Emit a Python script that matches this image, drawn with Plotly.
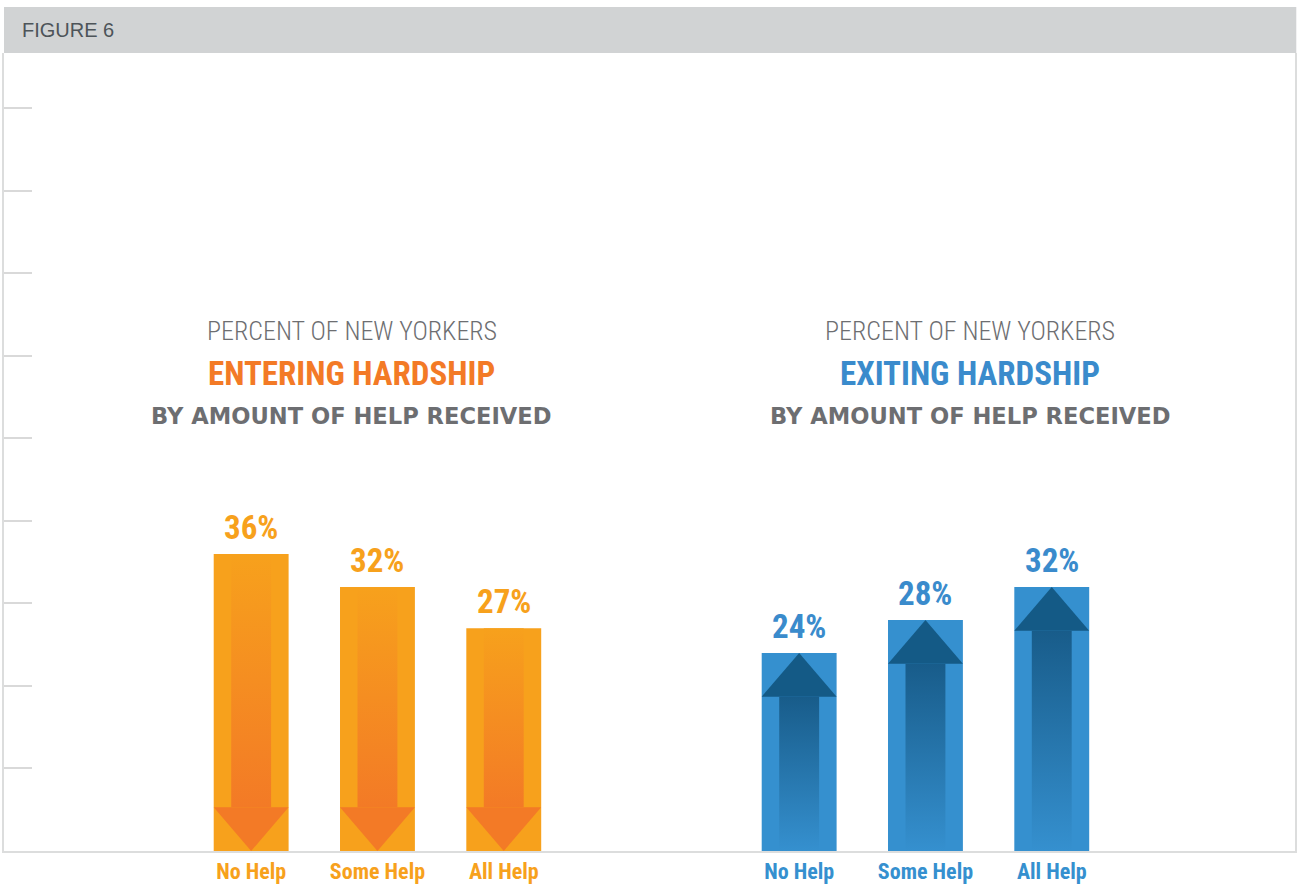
import plotly.graph_objects as go

categories = ["No Help", "Some Help", "All Help"]
entering_pct = [36, 32, 27]
exiting_pct = [24, 28, 32]

ORANGE = "#f7a11c"
ORANGE_DARK = "#f37a26"
BLUE = "#3590cf"
BLUE_DARK = "#145a86"
GRAY_TEXT = "#6d6e71"
LINE_GRAY = "#dcdddd"
NARROW = "Roboto Condensed, DejaVu Sans Condensed, Liberation Sans Narrow, Arial Narrow, Roboto, sans-serif"

BAR_W = 0.593     # bar width in category units
SHAFT_W = 0.316   # arrow shaft width
HEAD_H = 5.3      # arrow head height in percentage points

xs = list(range(len(categories)))

fig = go.Figure()

fig.add_bar(x=xs, y=entering_pct, width=BAR_W, marker_color=ORANGE,
            marker_line_width=0, xaxis="x", yaxis="y", hoverinfo="skip")
fig.add_bar(x=xs, y=exiting_pct, width=BAR_W, marker_color=BLUE,
            marker_line_width=0, xaxis="x2", yaxis="y", hoverinfo="skip")

s, w = SHAFT_W / 2, BAR_W / 2

# down arrows for people entering hardship
for c, v in zip(xs, entering_pct):
    fig.add_scatter(x=[c - s, c + s, c + s, c - s, c - s], y=[v, v, HEAD_H, HEAD_H, v],
                    fill="toself", mode="lines", line_width=0,
                    fillgradient=dict(type="vertical", colorscale=[[0, ORANGE_DARK], [1, ORANGE]]),
                    xaxis="x", yaxis="y", hoverinfo="skip")
    fig.add_scatter(x=[c - w, c + w, c, c - w], y=[HEAD_H, HEAD_H, 0, HEAD_H],
                    fill="toself", mode="lines", line_width=0, fillcolor=ORANGE_DARK,
                    xaxis="x", yaxis="y", hoverinfo="skip")

# up arrows for people exiting hardship
for c, v in zip(xs, exiting_pct):
    fig.add_scatter(x=[c - s, c + s, c + s, c - s, c - s], y=[0, 0, v - HEAD_H, v - HEAD_H, 0],
                    fill="toself", mode="lines", line_width=0,
                    fillgradient=dict(type="vertical", colorscale=[[0, BLUE], [1, "#185c8a"]]),
                    xaxis="x2", yaxis="y", hoverinfo="skip")
    fig.add_scatter(x=[c - w, c + w, c, c - w], y=[v - HEAD_H, v - HEAD_H, v, v - HEAD_H],
                    fill="toself", mode="lines", line_width=0, fillcolor=BLUE_DARK,
                    xaxis="x2", yaxis="y", hoverinfo="skip")

annotations = []
for c, v in zip(xs, entering_pct):
    annotations.append(dict(x=c, y=v, xref="x", yref="y", text=f"{v}%", showarrow=False,
                            yanchor="bottom", yshift=5,
                            font=dict(family=NARROW, size=33, color=ORANGE, weight=700)))
for c, v in zip(xs, exiting_pct):
    annotations.append(dict(x=c, y=v, xref="x2", yref="y", text=f"{v}%", showarrow=False,
                            yanchor="bottom", yshift=5,
                            font=dict(family=NARROW, size=33, color="#3a8bcc", weight=700)))

titles = [
    (0.2695, "ENTERING HARDSHIP", ORANGE_DARK),
    (0.7483, "EXITING HARDSHIP", "#3a8bcc"),
]
for xp, label, col in titles:
    annotations += [
        dict(x=xp, y=0.652, xref="paper", yref="paper", text="PERCENT OF NEW YORKERS",
             xanchor="center", showarrow=False,
             font=dict(family=NARROW, size=26, color=GRAY_TEXT, weight=300)),
        dict(x=xp, y=0.598, xref="paper", yref="paper", text=label,
             xanchor="center", showarrow=False,
             font=dict(family=NARROW, size=33, color=col, weight=700)),
        dict(x=xp, y=0.5457, xref="paper", yref="paper", text="BY AMOUNT OF HELP RECEIVED",
             xanchor="center", showarrow=False,
             font=dict(family="DejaVu Sans", size=22.6, color=GRAY_TEXT, weight=700)),
    ]

annotations.append(dict(x=0.0124, y=1.0288, xref="paper", yref="paper", text="FIGURE 6",
                        xanchor="left", yanchor="middle", showarrow=False,
                        font=dict(family="Liberation Sans", size=20, color="#4d5459")))

fig.update_layout(
    width=1299, height=886,
    margin=dict(l=4, r=2, t=53, b=34),
    paper_bgcolor="white", plot_bgcolor="white",
    barmode="overlay", showlegend=False,
    annotations=annotations,
    shapes=[dict(type="rect", xref="paper", yref="paper", x0=0, x1=1.001, y0=1, y1=1.0576,
                 fillcolor="#d1d3d4", line_width=0, layer="above")],
    xaxis=dict(range=[-1.957, 8.265], tickvals=xs, ticktext=categories,
               tickfont=dict(family=NARROW, size=22, color=ORANGE, weight=700),
               showline=True, linecolor=LINE_GRAY, linewidth=2, ticks="",
               showgrid=False, zeroline=False, fixedrange=True),
    xaxis2=dict(overlaying="x", anchor="y", side="bottom", range=[-6.296, 3.926],
                tickvals=xs, ticktext=categories,
                tickfont=dict(family=NARROW, size=22, color=BLUE, weight=700),
                showline=True, linecolor=LINE_GRAY, linewidth=2, ticks="",
                showgrid=False, zeroline=False, fixedrange=True),
    yaxis=dict(range=[0, 96.7], dtick=10, ticks="inside", ticklen=28, tickwidth=1.5,
               tickcolor="#d9d9d9", showticklabels=False, showline=True, mirror=True,
               linecolor=LINE_GRAY, linewidth=2, showgrid=False, zeroline=False,
               fixedrange=True),
)

# drop the default page margin so the figure sits at the window's corner
fig.write_html("out.html", config={"displayModeBar": False},
               post_script="document.body.style.margin='0';")
